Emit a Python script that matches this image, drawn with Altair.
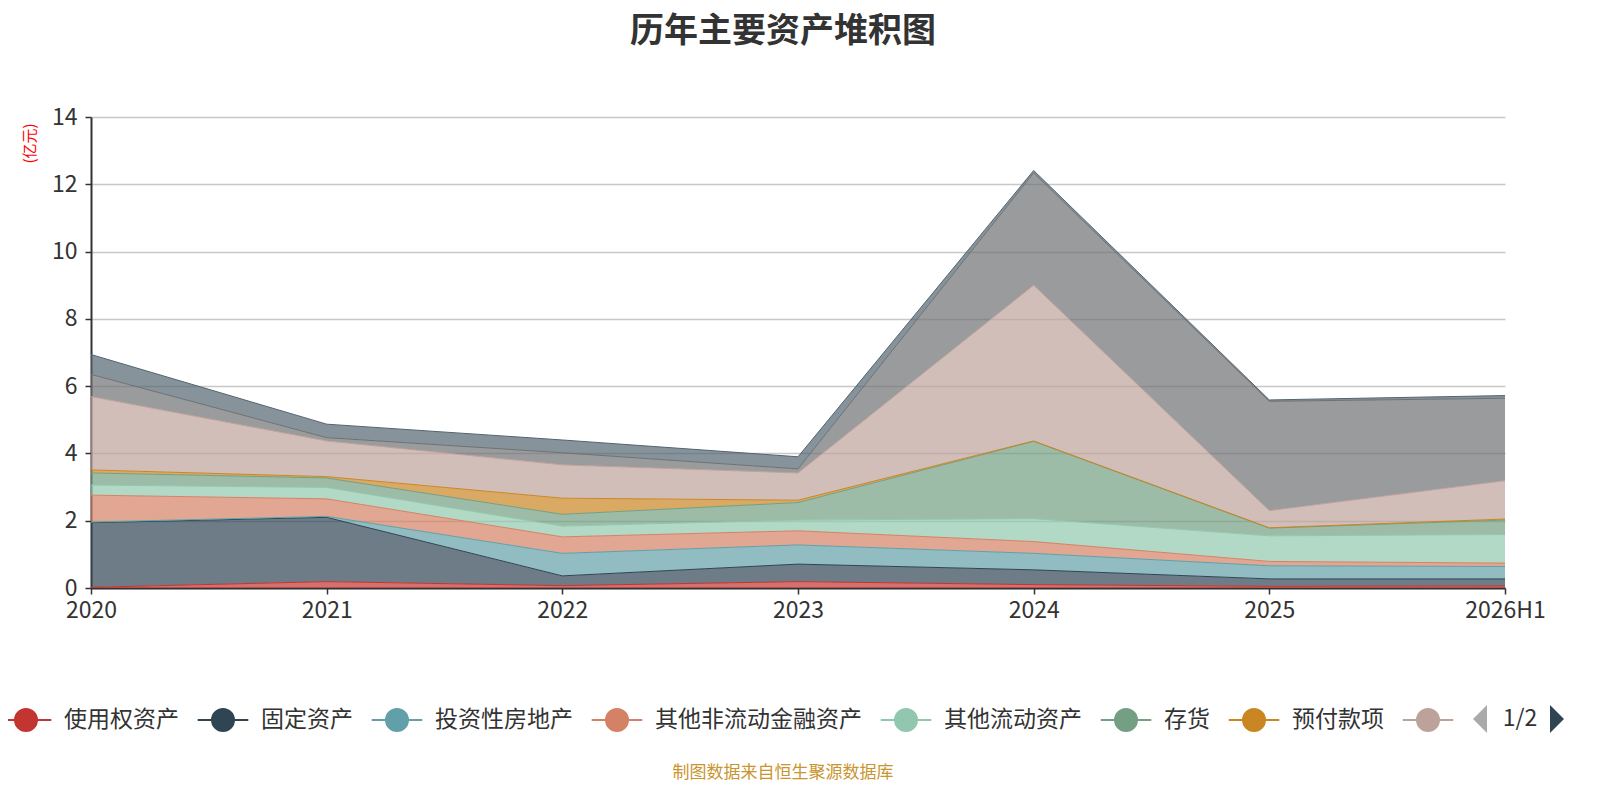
import altair as alt
import pandas as pd

years = ["2020", "2021", "2022", "2023", "2024", "2025", "2026H1"]

series_names = ["使用权资产", "固定资产", "投资性房地产", "其他非流动金融资产",
                "其他流动资产", "存货", "预付款项", "应收账款", "货币资金", "交易性金融资产"]

right_of_use = [0.02, 0.19, 0.07, 0.19, 0.10, 0.05, 0.06]
fixed_assets = [1.92, 1.91, 0.29, 0.52, 0.44, 0.22, 0.21]
invest_property = [0.02, 0.03, 0.67, 0.57, 0.49, 0.39, 0.37]
other_noncurrent_fin = [0.80, 0.52, 0.49, 0.42, 0.35, 0.13, 0.10]
other_current = [0.30, 0.34, 0.32, 0.32, 0.68, 0.76, 0.85]
inventory = [0.36, 0.28, 0.35, 0.52, 2.30, 0.23, 0.43]
prepayments = [0.09, 0.04, 0.48, 0.07, 0.01, 0.01, 0.03]
receivables = [2.18, 1.06, 0.99, 0.81, 4.63, 0.51, 1.14]
cash = [0.66, 0.10, 0.36, 0.12, 3.34, 3.25, 2.45]
trading_fin = [0.59, 0.40, 0.38, 0.36, 0.07, 0.04, 0.08]

series_values = [right_of_use, fixed_assets, invest_property, other_noncurrent_fin,
                 other_current, inventory, prepayments, receivables, cash, trading_fin]

colors = ["#c23531", "#2f4554", "#61a0a8", "#d48265", "#91c7ae",
          "#749f83", "#ca8622", "#bda29a", "#6e7074", "#546570"]

legend_shown = series_names[:8]

rows = []
for yi, yr in enumerate(years):
    base = 0.0
    for si, name in enumerate(series_names):
        v = series_values[si][yi]
        rows.append({"year": yr, "series": name, "value": v,
                     "y0": base, "y1": base + v, "k": si})
        base += v
df = pd.DataFrame(rows)

FONT = "Noto Sans CJK SC"

symbol_path = ("M-2.3,0 L-1,0 M1,0 L2.3,0 "
               "M-1,0 A1,1 0 1,0 1,0 A1,1 0 1,0 -1,0 Z")

color_scale = alt.Scale(domain=series_names, range=colors)

x_enc = alt.X("year:O", sort=years,
              scale=alt.Scale(type="point", padding=0),
              axis=alt.Axis(title=None, labelAngle=0, labelFontSize=23,
                            labelColor="#333333", labelFont=FONT,
                            domainColor="#333333", domainWidth=2,
                            tickColor="#333333", tickSize=6, tickWidth=1.5,
                            labelPadding=5, grid=False))

y_scale = alt.Scale(domain=[0, 14], nice=False)
y_axis = alt.Axis(title="(亿元)", titleColor="#ff0000", titleFontSize=15,
                  titleFontWeight="normal", titleFont=FONT,
                  titleAngle=-90, titleX=-62, titleY=26,
                  titleAlign="center", titleBaseline="middle",
                  values=[0, 2, 4, 6, 8, 10, 12, 14],
                  labelFontSize=23, labelColor="#333333", labelFont=FONT,
                  labelPadding=8,
                  domainColor="#333333", domainWidth=2,
                  tickColor="#333333", tickSize=6, tickWidth=1.5,
                  grid=True, gridColor="#c8c8c8", gridWidth=1.5)

legend = alt.Legend(title=None, orient="none", direction="horizontal",
                    legendX=-77, legendY=591,
                    values=legend_shown,
                    labelExpr="datum.label == '应收账款' ? '' : datum.label",
                    symbolType=symbol_path, symbolSize=484,
                    symbolStrokeWidth=2, symbolOpacity=1,
                    labelFontSize=23, labelFont=FONT, labelColor="#333333",
                    labelOffset=26, columnPadding=14, padding=0,
                    labelLimit=400)

area = alt.Chart(df).mark_area(opacity=0.7, line=False).encode(
    x=x_enc,
    y=alt.Y("y1:Q", scale=y_scale, axis=y_axis),
    y2="y0:Q",
    color=alt.Color("series:N", scale=color_scale, sort=series_names, legend=legend),
    order="k:Q",
)

lines = alt.Chart(df).mark_line(strokeWidth=1).encode(
    x=x_enc,
    y=alt.Y("y1:Q", scale=y_scale),
    color=alt.Color("series:N", scale=color_scale, sort=series_names, legend=legend),
)

pager_df = pd.DataFrame({"label": ["1/2"]})
pager_text = alt.Chart(pager_df).mark_text(fontSize=23, font=FONT, color="#333333",
                                           align="center", baseline="middle").encode(
    text="label:N", x=alt.value(1429), y=alt.value(602))
left_arrow = alt.Chart(pager_df).mark_point(shape="M0.5,-1 L-0.5,0 L0.5,1 Z", filled=True,
                                            size=784, color="#aaaaaa", opacity=1).encode(
    x=alt.value(1389), y=alt.value(602))
right_arrow = alt.Chart(pager_df).mark_point(shape="M-0.5,-1 L0.5,0 L-0.5,1 Z", filled=True,
                                             size=784, color="#2f4554", opacity=1).encode(
    x=alt.value(1466), y=alt.value(602))

footer_df = pd.DataFrame({"label": ["制图数据来自恒生聚源数据库"]})
footer = alt.Chart(footer_df).mark_text(fontSize=17, font=FONT, color="#c9952f",
                                        align="center", baseline="middle").encode(
    text="label:N", x=alt.value(692), y=alt.value(656))

chart = alt.layer(area, lines, pager_text, left_arrow, right_arrow, footer).properties(
    width=1414, height=471,
    autosize=alt.AutoSizeParams(type="none"),
    padding={"left": 83, "top": 109, "right": 65, "bottom": 196},
    title=alt.TitleParams("历年主要资产堆积图", fontSize=34, fontWeight="bold",
                          font=FONT, color="#333333", anchor="middle",
                          frame="group", offset=57, dx=-15),
).configure_view(stroke=None)

chart.save("out.html", embed_options={"renderer": "svg", "actions": False})
